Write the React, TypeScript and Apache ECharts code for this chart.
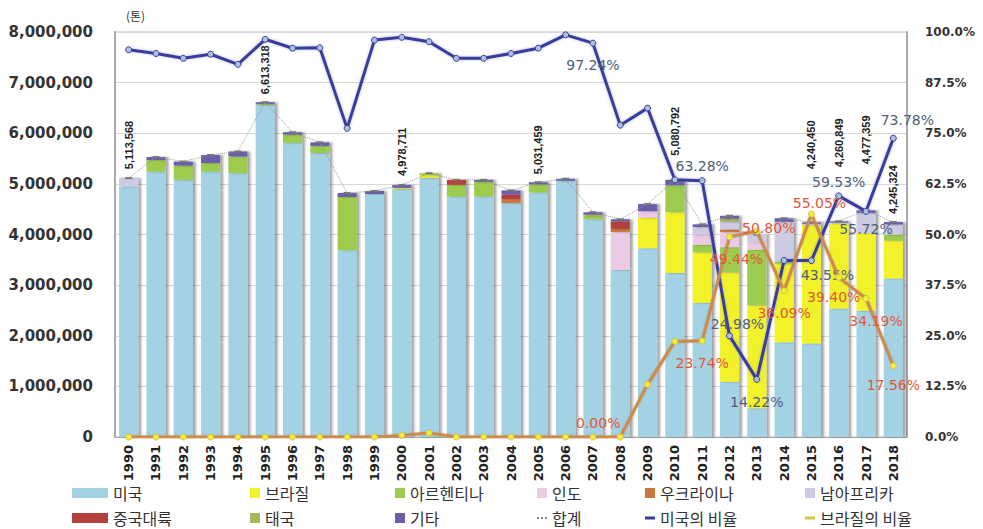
import React, { useEffect, useRef } from "react";
import * as echarts from "echarts";

const years = [
  "1990", "1991", "1992", "1993", "1994", "1995", "1996", "1997", "1998", "1999",
  "2000", "2001", "2002", "2003", "2004", "2005", "2006", "2007", "2008", "2009",
  "2010", "2011", "2012", "2013", "2014", "2015", "2016", "2017", "2018",
];

const usa = [
  4950000, 5240000, 5080000, 5240000, 5210000, 6560000, 5810000, 5610000, 3690000, 4800000,
  4900000, 5120000, 4750000, 4750000, 4620000, 4830000, 5060000, 4300000, 3300000, 3730000,
  3240000, 2650000, 1090000, 570000, 1870000, 1847000, 2536000, 2495000, 3132000,
];
const brazil = [
  0, 0, 0, 0, 0, 0, 0, 0, 0, 0,
  20000, 50000, 0, 0, 0, 0, 0, 0, 0, 600000,
  1200000, 997000, 2160000, 2030000, 1550000, 2334000, 1679000, 1531000, 745000,
];
const argentina = [
  0, 230000, 280000, 170000, 330000, 20000, 160000, 140000, 1050000, 0,
  0, 40000, 230000, 290000, 0, 160000, 0, 70000, 0, 0,
  530000, 150000, 500000, 1100000, 50000, 0, 0, 0, 120000,
];
const india = [
  0, 0, 0, 0, 0, 0, 0, 0, 0, 0,
  0, 0, 0, 0, 0, 0, 0, 0, 750000, 130000,
  0, 200000, 300000, 150000, 0, 0, 0, 0, 0,
];
const ukraine = [
  0, 0, 0, 0, 0, 0, 0, 0, 0, 0,
  0, 0, 0, 0, 80000, 0, 0, 0, 60000, 0,
  0, 0, 50000, 0, 0, 0, 0, 0, 0,
];
const southAfrica = [
  160000, 0, 0, 0, 0, 0, 0, 0, 0, 0,
  0, 0, 0, 0, 0, 0, 0, 0, 0, 0,
  0, 150000, 150000, 150000, 780000, 30000, 20000, 400000, 200000,
];
const china = [
  0, 0, 0, 0, 0, 0, 0, 0, 0, 0,
  0, 0, 100000, 0, 90000, 0, 0, 0, 150000, 0,
  0, 0, 0, 0, 0, 0, 0, 0, 0,
];
const thailand = [
  0, 0, 0, 0, 0, 0, 0, 0, 0, 0,
  0, 0, 0, 0, 0, 0, 0, 20000, 0, 0,
  0, 0, 60000, 0, 0, 0, 0, 0, 0,
];
const others = [
  3568, 60000, 80000, 160000, 100000, 33318, 50000, 70000, 80000, 60000,
  58711, 0, 0, 40000, 80000, 41459, 40000, 50000, 40000, 140000,
  110792, 53000, 60000, 0, 70000, 29450, 25849, 51359, 48324,
];
const totals = [
  5113568, 5530000, 5440000, 5570000, 5640000, 6613318, 6020000, 5820000, 4820000, 4860000,
  4978711, 5210000, 5080000, 5080000, 4870000, 5031459, 5100000, 4440000, 4300000, 4600000,
  5080792, 4200000, 4370000, 4000000, 4320000, 4240450, 4260849, 4477359, 4245324,
];
const usShare = [
  95.6, 94.7, 93.5, 94.5, 92.0, 98.2, 96.0, 96.1, 76.2, 98.0,
  98.7, 97.6, 93.5, 93.5, 94.7, 96.0, 99.3, 97.24, 77.0, 81.2,
  63.5, 63.28, 24.98, 14.22, 43.6, 43.55, 59.53, 55.72, 73.78,
];
const brazilShare = [
  0, 0, 0, 0, 0, 0, 0, 0, 0, 0,
  0.4, 1.0, 0, 0, 0, 0, 0, 0, 0.0, 13.0,
  23.6, 23.74, 49.44, 50.8, 36.09, 55.05, 39.4, 34.19, 17.56,
];

const seriesNames = [
  "미국", "브라질", "아르헨티나", "인도", "우크라이나", "남아프리카",
  "중국대륙", "태국", "기타", "합계", "미국의 비율", "브라질의 비율",
];

// label placement (styles only)
const totalLabelDist: Record<number, number> = {
  0: 8, 5: 7, 10: 8, 15: 7, 20: 23, 25: 52, 26: 53, 27: 45, 28: 7,
};
const usLabelCfg: Record<number, any> = {
  17: { position: "bottom", distance: 11 },
  21: { position: "top", distance: 4 },
  22: { position: "top", distance: 1, offset: [8, 0] },
  23: { position: "bottom", distance: 12 },
  25: { position: "bottom", distance: 4, offset: [16, 0] },
  26: { position: "top", distance: 3 },
  27: { position: "bottom", distance: 7 },
  28: { position: "top", distance: 8, offset: [14, 0] },
};
const brLabelCfg: Record<number, any> = {
  18: { position: "top", distance: 4, offset: [-22, 0] },
  21: { position: "bottom", distance: 12 },
  22: { position: "bottom", distance: 12, offset: [7, 0] },
  23: { position: "inside", offset: [12, -3] },
  24: { position: "bottom", distance: 12 },
  25: { position: "top", distance: 1, offset: [8, 0] },
  26: { position: "bottom", distance: 9, offset: [-5, 0] },
  27: { position: "bottom", distance: 12, offset: [10, 0] },
  28: { position: "bottom", distance: 9 },
};

const barColors = [
  "#A3D2E4", "#F2F22A", "#9CCB4E", "#EACBE3", "#C97A3A",
  "#CDCAE3", "#B5413E", "#A3B856", "#6B5EA8",
];
const lineLegendColors: Record<string, string> = {
  "합계": "#888888",
  "미국의 비율": "#3B3B9B",
  "브라질의 비율": "#D8C040",
};

const fmtComma = (v: number) => String(Math.round(v)).replace(/\B(?=(\d{3})+(?!\d))/g, ",");

export default function App() {
  const ref = useRef<HTMLDivElement>(null);
  useEffect(() => {
    if (!ref.current) return;
    const chart = echarts.init(ref.current, undefined, { renderer: "svg" });
    const stacks = [usa, brazil, argentina, india, ukraine, southAfrica, china, thailand, others];

    const barSeries = stacks.map((arr, i) => ({
      name: seriesNames[i],
      type: "bar",
      stack: "total",
      barCategoryGap: "30%",
      data: arr,
      itemStyle: {
        color: barColors[i],
        shadowColor: "rgba(0,0,0,0.35)",
        shadowOffsetX: 3,
        shadowBlur: 2,
      },
      z: 2,
    }));

    const totalData = totals.map((v, i) =>
      totalLabelDist[i] !== undefined
        ? { value: v, label: { show: true, distance: totalLabelDist[i] } }
        : v
    );
    const usData = usShare.map((v, i) =>
      usLabelCfg[i] ? { value: v, label: { show: true, ...usLabelCfg[i] } } : v
    );
    const brData = brazilShare.map((v, i) =>
      brLabelCfg[i] ? { value: v, label: { show: true, ...brLabelCfg[i] } } : v
    );

    const legendCols = [72, 250, 395, 537, 645, 805];
    const legendRows = [485, 510];
    const legends: any[] = [];
    seriesNames.forEach((name, k) => {
      const row = k < 6 ? 0 : 1;
      const col = k % 6;
      const itemWidth = col === 0 ? 36 : 10;
      let itemHeight = 10;
      let icon: string = "rect";
      const color = k < 9 ? barColors[k] : lineLegendColors[name];
      if (name === "합계") {
        icon = "path://M0,0h2v2h-2z M4,0h2v2h-2z M8,0h2v2h-2z";
        itemHeight = 2;
      } else if (k >= 10) {
        itemHeight = 3;
      }
      legends.push({
        data: [{ name, icon, itemStyle: { color, shadowBlur: 0, shadowOffsetX: 0, borderWidth: 0 } }],
        left: legendCols[col],
        top: legendRows[row],
        itemWidth,
        itemHeight,
        selectedMode: false,
        padding: 0,
        textStyle: {
          fontSize: 16,
          color: "#333",
          fontFamily: "Noto Sans CJK KR",
        },
      });
    });

    chart.setOption({
      animation: false,
      backgroundColor: "#fff",
      grid: {
        left: 115,
        right: 76,
        top: 32,
        bottom: 92,
        show: true,
        borderColor: "#bdbdbd",
        borderWidth: 1,
      },
      legend: legends,
      graphic: [
        {
          type: "text",
          left: 126,
          top: 9,
          style: {
            text: "(톤)",
            fontSize: 12,
            fill: "#333",
            fontFamily: "Noto Sans CJK KR",
          },
        },
      ],
      xAxis: {
        type: "category",
        data: years,
        axisLine: { lineStyle: { color: "#aaa", width: 1 } },
        axisTick: { show: false },
        axisLabel: {
          interval: 0,
          rotate: 90,
          fontSize: 13,
          fontWeight: "bold",
          color: "#222",
          fontFamily: "DejaVu Sans",
          margin: 8,
        },
      },
      yAxis: [
        {
          type: "value",
          min: 0,
          max: 8000000,
          interval: 1000000,
          axisLine: { show: true, lineStyle: { color: "#aaa", width: 2 } },
          axisTick: { show: false },
          splitLine: { lineStyle: { color: "#d8d8d8" } },
          axisLabel: {
            formatter: (v: number) => fmtComma(v),
            fontSize: 15,
            fontWeight: "bold",
            color: "#333",
            fontFamily: "DejaVu Sans",
            margin: 22,
          },
        },
        {
          type: "value",
          min: 0,
          max: 100,
          interval: 12.5,
          position: "right",
          axisLine: { show: true, lineStyle: { color: "#aaa", width: 2 } },
          axisTick: { show: false },
          splitLine: { show: false },
          axisLabel: {
            formatter: (v: number) => v.toFixed(1) + "%",
            fontSize: 12,
            fontWeight: "bold",
            color: "#333",
            fontFamily: "DejaVu Sans",
            margin: 18,
          },
        },
      ],
      series: [
        ...barSeries,
        {
          name: "합계",
          type: "line",
          data: totalData,
          z: 5,
          symbol: "rect",
          symbolSize: [7, 2],
          itemStyle: { color: "#777" },
          lineStyle: { type: "dotted", color: "#999", width: 1 },
          label: {
            show: false,
            position: "top",
            rotate: 90,
            align: "left",
            verticalAlign: "middle",
            formatter: (p: any) => fmtComma(p.value),
            fontSize: 11,
            fontWeight: "bold",
            fontFamily: "Liberation Sans",
            color: "#222",
          },
        },
        {
          name: "미국의 비율",
          type: "line",
          yAxisIndex: 1,
          data: usData,
          z: 6,
          symbol: "circle",
          symbolSize: 6,
          itemStyle: { color: "#A9C2E0", borderColor: "#3B3B9B", borderWidth: 1 },
          lineStyle: {
            color: "#3B3B9B",
            width: 3,
            shadowColor: "rgba(120,140,190,0.6)",
            shadowBlur: 3,
          },
          label: {
            show: false,
            formatter: (p: any) => p.value.toFixed(2) + "%",
            fontSize: 14,
            color: "#4E5D7A",
            fontFamily: "DejaVu Sans",
          },
        },
        {
          name: "브라질의 비율",
          type: "line",
          yAxisIndex: 1,
          data: brData,
          z: 7,
          symbol: "circle",
          symbolSize: 6,
          itemStyle: { color: "#EEF03A", borderColor: "#D8C040", borderWidth: 1 },
          lineStyle: {
            color: "#CF8A45",
            width: 3,
            shadowColor: "rgba(150,150,150,0.6)",
            shadowBlur: 2,
          },
          label: {
            show: false,
            formatter: (p: any) => p.value.toFixed(2) + "%",
            fontSize: 14,
            color: "#E0583A",
            fontFamily: "DejaVu Sans",
          },
        },
      ],
    });
    return () => chart.dispose();
  }, []);
  return (
    <div
      ref={ref}
      style={{ position: "fixed", left: 0, top: 0, width: 983, height: 529 }}
    />
  );
}
